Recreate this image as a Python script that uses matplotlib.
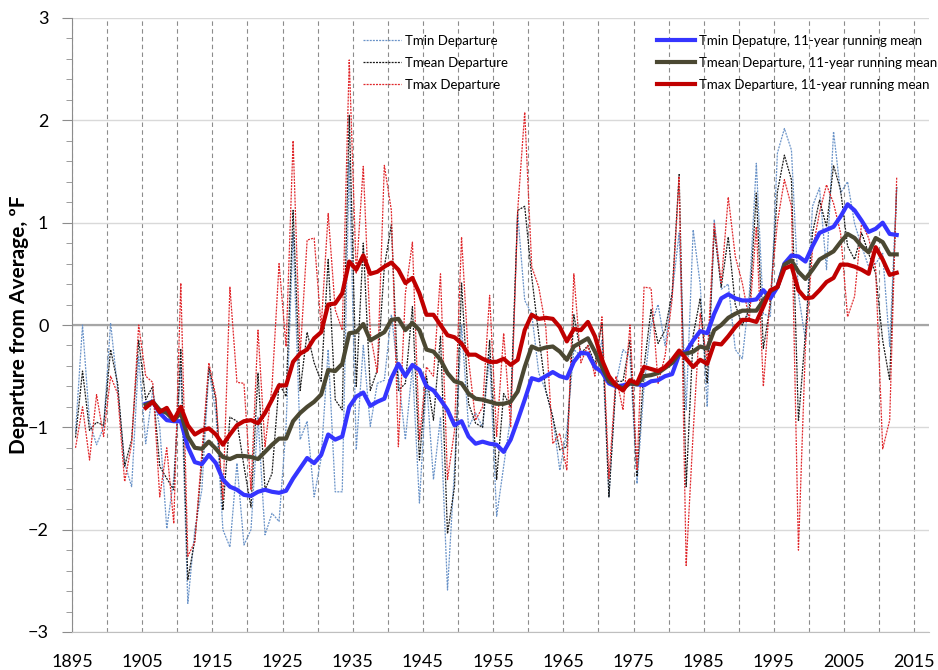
import numpy as np
import matplotlib
matplotlib.use("Agg")
import matplotlib.pyplot as plt
from matplotlib.ticker import MultipleLocator

plt.rcParams['font.family'] = ['Lato', 'DejaVu Sans']

# annual departures, 1895-2012
years = np.arange(1895, 2013)
tmin = [
    -1.05, 0.00, -0.95, -1.17, -1.00,                       # 1895-1899
    0.02, -0.63, -1.35, -1.58, -0.31, -1.16, -0.64, -1.00, -1.99, -1.50,   # 1900s
    -0.41, -2.72, -2.00, -1.61, -0.44, -0.86, -2.00, -2.17, -1.35, -2.15,  # 1910s
    -2.00, -0.90, -2.05, -1.84, -1.92, -0.99, 0.90, -1.12, -0.94, -1.68,   # 1920s
    -1.30, -0.24, -1.63, -1.63, 1.60, -1.22, -0.20, -0.99, -0.57, -0.54,   # 1930s
    0.10, -0.50, -1.12, -0.40, -1.74, -0.54, -1.51, -0.90, -2.59, -1.40,   # 1940s
    0.00, -1.00, -0.86, -1.00, -0.30, -1.87, -1.38, -0.90, 1.09, 0.24,     # 1950s
    0.11, -0.47, -0.64, -0.90, -1.42, -1.03, -0.24, -0.30, -0.28, -0.44,   # 1960s
    -0.15, -1.68, -0.57, -0.24, -0.31, -1.55, -0.60, 0.00, 0.20, -0.20,    # 1970s
    0.30, 0.90, -0.83, 0.93, 0.40, -0.80, 1.03, 0.35, 0.40, -0.24,         # 1980s
    -0.33, 0.30, 1.58, 0.11, 0.08, 1.68, 1.92, 1.71, 0.30, -0.15,          # 1990s
    1.16, 1.34, 0.54, 1.89, 1.29, 1.40, 0.99, 0.77, 0.57, 0.60,            # 2000s
    0.70, -0.21, 1.35,                                                     # 2010-2012
]
tmean = [
    -1.10, -0.45, -1.03, -0.95, -0.98,
    -0.24, -0.57, -1.38, -1.12, -0.15, -0.73, -0.60, -1.38, -1.50, -1.61,
    -0.24, -2.49, -2.10, -1.35, -0.41, -0.73, -1.81, -0.90, -0.94, -1.38,
    -1.78, -0.47, -1.61, -1.45, -0.57, -0.70, 1.12, -0.64, -0.07, -0.37,
    -0.55, 0.64, -0.73, -0.83, 2.05, -0.60, 0.80, -0.64, -0.44, 0.57,
    0.98, -0.64, -0.57, 0.18, -1.32, -0.50, -0.93, -0.11, -2.04, -1.58,
    0.41, -0.77, -0.96, -1.00, -0.15, -1.51, -0.67, -0.80, 1.12, 1.16,
    0.47, -0.10, -0.64, -0.90, -1.22, -1.19, 0.10, -0.28, -0.20, -0.38,
    0.02, -1.68, -0.55, -0.55, -0.15, -1.48, -0.41, 0.15, -0.18, -0.05,
    0.31, 1.47, -1.58, -0.10, 0.26, -0.57, 0.93, 0.37, 0.86, 0.20,
    0.00, 0.15, 1.29, -0.23, 0.20, 1.30, 1.66, 1.42, -0.94, -0.08,
    0.90, 1.22, 0.96, 1.56, 1.32, 0.77, 0.64, 0.90, 0.70, 0.50,
    -0.15, -0.54, 1.35,
]
tmax = [
    -1.20, -0.80, -1.32, -0.68, -1.09,
    -0.50, -0.67, -1.53, -1.16, 0.00, -0.50, -0.56, -1.68, -1.20, -1.94,
    0.41, -2.26, -2.12, -1.25, -0.37, -0.70, -1.71, 0.37, -0.56, -0.57,
    -1.61, -0.05, -1.19, -0.60, 0.60, -0.21, 1.80, -0.30, 0.83, 0.85,
    -0.02, 1.09, 0.15, -0.05, 2.59, 0.50, 1.55, -0.08, -0.47, 1.56,
    1.12, -1.19, 0.31, 0.81, -1.12, -0.41, -0.50, 0.50, -1.51, -1.03,
    0.86, -0.34, -0.93, -0.80, 0.29, -1.09, -0.08, -1.00, 1.12, 2.08,
    0.57, 0.37, -0.02, -1.16, -1.06, -1.42, 0.50, -0.37, -0.20, -0.50,
    0.08, -1.50, -0.50, -0.83, 0.00, -1.42, 0.37, 0.36, -0.57, -0.30,
    0.25, 1.45, -2.35, -1.05, 0.11, -0.35, 0.99, 0.41, 1.25, 0.67,
    0.41, 0.05, 0.96, -0.60, 0.30, 1.00, 1.42, 1.16, -2.20, -0.20,
    0.73, 1.10, 1.37, 1.19, 0.90, 0.08, 0.28, 1.00, 0.85, 0.55,
    -1.21, -0.93, 1.45,
]

# 11-year running means, 1905-2012
rm_years = np.arange(1905, 2013)
tmin_rm = [
    -0.77, -0.75, -0.86, -0.93, -0.94,
    -0.94, -1.19, -1.34, -1.36, -1.27, -1.35, -1.51, -1.58, -1.61, -1.66,
    -1.67, -1.63, -1.61, -1.63, -1.64, -1.62, -1.50, -1.40, -1.30, -1.35,
    -1.27, -1.07, -1.12, -1.09, -0.80, -0.70, -0.66, -0.79, -0.75, -0.72,
    -0.52, -0.38, -0.50, -0.39, -0.44, -0.60, -0.64, -0.73, -0.83, -0.98,
    -0.94, -1.09, -1.16, -1.14, -1.16, -1.17, -1.24, -1.12, -0.93, -0.73,
    -0.52, -0.54, -0.50, -0.46, -0.50, -0.52, -0.36, -0.27, -0.28, -0.41,
    -0.46, -0.57, -0.60, -0.59, -0.57, -0.58, -0.59, -0.55, -0.54, -0.50,
    -0.48, -0.29, -0.26, -0.15, -0.06, -0.08, 0.11, 0.26, 0.30, 0.26,
    0.24, 0.24, 0.25, 0.34, 0.26, 0.37, 0.60, 0.68, 0.67, 0.62,
    0.77, 0.90, 0.93, 0.96, 1.06, 1.18, 1.12, 1.02, 0.91, 0.94,
    1.00, 0.89, 0.88,
]
tmean_rm = [
    -0.78, -0.75, -0.83, -0.86, -0.93,
    -0.86, -1.09, -1.20, -1.21, -1.14, -1.21, -1.29, -1.31, -1.28, -1.28,
    -1.29, -1.31, -1.24, -1.17, -1.11, -1.11, -0.94, -0.86, -0.80, -0.75,
    -0.68, -0.44, -0.45, -0.38, -0.08, -0.07, 0.01, -0.15, -0.11, -0.07,
    0.05, 0.06, -0.05, 0.02, -0.05, -0.24, -0.26, -0.34, -0.47, -0.55,
    -0.57, -0.67, -0.72, -0.73, -0.75, -0.77, -0.77, -0.75, -0.65, -0.41,
    -0.21, -0.24, -0.22, -0.21, -0.26, -0.34, -0.21, -0.17, -0.13, -0.26,
    -0.41, -0.55, -0.59, -0.62, -0.57, -0.58, -0.50, -0.49, -0.47, -0.42,
    -0.37, -0.28, -0.28, -0.26, -0.21, -0.23, -0.05, 0.00, 0.07, 0.11,
    0.14, 0.14, 0.14, 0.24, 0.33, 0.37, 0.59, 0.63, 0.52, 0.45,
    0.54, 0.64, 0.68, 0.72, 0.81, 0.89, 0.85, 0.77, 0.71, 0.85,
    0.81, 0.69, 0.69,
]
tmax_rm = [
    -0.81, -0.75, -0.85, -0.81, -0.93,
    -0.80, -0.98, -1.07, -1.03, -1.01, -1.07, -1.17, -1.07, -0.98, -0.94,
    -0.93, -0.96, -0.86, -0.73, -0.59, -0.59, -0.36, -0.28, -0.24, -0.13,
    -0.07, 0.20, 0.21, 0.31, 0.62, 0.54, 0.68, 0.50, 0.52, 0.57,
    0.61, 0.54, 0.41, 0.46, 0.31, 0.10, 0.10, 0.00, -0.10, -0.12,
    -0.18, -0.29, -0.29, -0.33, -0.36, -0.36, -0.33, -0.39, -0.34, -0.05,
    0.10, 0.06, 0.07, 0.06, -0.02, -0.16, -0.04, -0.05, 0.03, -0.11,
    -0.34, -0.50, -0.59, -0.64, -0.54, -0.57, -0.41, -0.43, -0.45, -0.41,
    -0.34, -0.25, -0.33, -0.41, -0.34, -0.38, -0.18, -0.19, -0.11, -0.02,
    0.05, 0.05, 0.03, 0.18, 0.34, 0.37, 0.55, 0.58, 0.34, 0.26,
    0.27, 0.34, 0.42, 0.46, 0.59, 0.59, 0.57, 0.54, 0.50, 0.76,
    0.64, 0.49, 0.51,
]

x_ticks = np.arange(1895, 2016, 10)

fig = plt.figure(figsize=(9.38, 6.70), dpi=100)
ax = fig.add_axes([72 / 938, 1 - 632 / 670, (929 - 72) / 938, (632 - 18) / 670])

# values are plotted at mid-year
xa = years + 0.5
xr = rm_years + 0.5
dot = (0, (1.6, 0.9))
h1, = ax.plot(xa, tmin, color='#6A93C8', lw=0.9, ls=dot, label='Tmin Departure', zorder=3)
h2, = ax.plot(xa, tmean, color='#1A1A1A', lw=0.9, ls=dot, label='Tmean Departure', zorder=3)
h3, = ax.plot(xa, tmax, color='#E0282C', lw=0.9, ls=dot, label='Tmax Departure', zorder=3)
h4, = ax.plot(xr, tmin_rm, color='#3535FF', lw=3, label='Tmin Depature, 11-year running mean', zorder=4)
h5, = ax.plot(xr, tmean_rm, color='#4B4832', lw=3, label='Tmean Departure, 11-year running mean', zorder=4)
h6, = ax.plot(xr, tmax_rm, color='#C00000', lw=3, label='Tmax Departure, 11-year running mean', zorder=5)

ax.set_xlim(1895, 2017.1)
ax.set_ylim(-3, 3)
ax.set_xticks(x_ticks)
ax.set_xticks(np.arange(1900, 2016, 5), minor=True)
ax.yaxis.set_major_locator(MultipleLocator(1))
ax.yaxis.set_minor_locator(MultipleLocator(0.2))

ax.xaxis.grid(True, which='both', color='#8C8C8C', lw=0.8, ls=(0, (4, 3)), zorder=1)
ax.yaxis.grid(True, which='major', color='#D9D9D9', lw=1.0, zorder=1)
ax.axhline(0, color='#A6A6A6', lw=1.6, zorder=2)

for s in ['top', 'right']:
    ax.spines[s].set_visible(False)
ax.spines['left'].set_color('#8C8C8C')
ax.spines['bottom'].set_color('#BFBFBF')
ax.tick_params(axis='x', which='both', length=0, pad=16, labelsize=13)
ax.tick_params(axis='y', which='major', length=7, color='#8C8C8C', pad=10, labelsize=13)
ax.tick_params(axis='y', which='minor', length=4, color='#8C8C8C')

fig.text(19 / 938, 1 - 325 / 670, 'Departure from Average, ºF', rotation=90,
         ha='center', va='center', fontsize=15, fontweight='bold')

leg1 = fig.legend(handles=[h1, h2, h3], loc='upper left', bbox_to_anchor=(363 / 938, 1 - 35 / 670),
                  frameon=False, fontsize=9.5, handlelength=2.9, handletextpad=0.3, labelspacing=0.75,
                  borderaxespad=0, borderpad=0)
leg2 = fig.legend(handles=[h4, h5, h6], loc='upper left', bbox_to_anchor=(657 / 938, 1 - 35 / 670),
                  frameon=False, fontsize=9.5, handlelength=2.9, handletextpad=0.3, labelspacing=0.75,
                  borderaxespad=0, borderpad=0)

fig.savefig('out.png', dpi=100, facecolor='white')
